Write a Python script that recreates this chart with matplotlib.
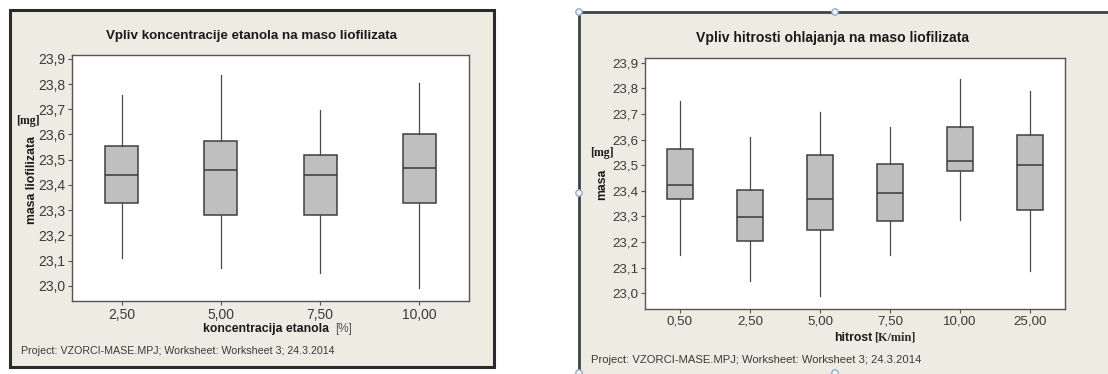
import matplotlib.pyplot as plt
from matplotlib.patches import Rectangle, Circle

# vpliv koncentracije etanola
conc_labels = ["2,50", "5,00", "7,50", "10,00"]
conc_whislo = [23.112, 23.071, 23.050, 22.991]
conc_q1 = [23.329, 23.281, 23.281, 23.329]
conc_med = [23.438, 23.459, 23.438, 23.467]
conc_q3 = [23.554, 23.574, 23.520, 23.600]
conc_whishi = [23.755, 23.834, 23.698, 23.805]

# vpliv hitrosti ohlajanja
rate_labels = ["0,50", "2,50", "5,00", "7,50", "10,00", "25,00"]
rate_whislo = [23.149, 23.049, 22.991, 23.148, 23.288, 23.088]
rate_q1 = [23.369, 23.204, 23.247, 23.281, 23.478, 23.327]
rate_med = [23.421, 23.296, 23.369, 23.392, 23.517, 23.501]
rate_q3 = [23.564, 23.404, 23.538, 23.506, 23.647, 23.618]
rate_whishi = [23.751, 23.610, 23.709, 23.648, 23.836, 23.789]

y_ticks = [23.0, 23.1, 23.2, 23.3, 23.4, 23.5, 23.6, 23.7, 23.8, 23.9]
y_ticklabels = [f"{v:.1f}".replace(".", ",") for v in y_ticks]
footer = "Project: VZORCI-MASE.MPJ; Worksheet: Worksheet 3; 24.3.2014"

W, H = 1108, 374
SANS = ["Liberation Sans", "DejaVu Sans"]
SERIF = ["Liberation Serif", "DejaVu Serif"]
BEIGE = "#eeebe3"
TXT = "#3a3a3a"
DARK = "#1a1a1a"

plt.rcParams["font.family"] = SANS

fig = plt.figure(figsize=(W / 100, H / 100), dpi=100)
fig.patch.set_facecolor("white")

# ozadje v pikslih
bg = fig.add_axes([0, 0, 1, 1])
bg.set_xlim(0, W)
bg.set_ylim(H, 0)
bg.axis("off")
bg.add_patch(Rectangle((10, 10), 484, 357, facecolor=BEIGE, edgecolor="#2b2b2b", lw=2.2))
bg.add_patch(Rectangle((579, 12), 540, 370, facecolor=BEIGE, edgecolor="#3c4248", lw=2.0))
for cx, cy in [(579, 12), (835, 12), (579, 193), (579, 373), (835, 373)]:
    bg.add_patch(Circle((cx, cy), 3.2, facecolor="#eef3fa", edgecolor="#8fa5bd", lw=0.9, zorder=5))


def px_rect(x0, y0, x1, y1):
    return [x0 / W, (H - y1) / H, (x1 - x0) / W, (y1 - y0) / H]


def draw_boxes(ax, labels, lo, q1, med, q3, hi, width, ylim, tick_size):
    stats = []
    for i in range(len(labels)):
        stats.append({"whislo": lo[i], "q1": q1[i], "med": med[i], "q3": q3[i], "whishi": hi[i]})
    ax.bxp(stats, positions=range(1, len(labels) + 1), widths=width, showfliers=False,
           showcaps=False, patch_artist=True,
           boxprops=dict(facecolor="#bfbfbf", edgecolor="#3f3f3f", linewidth=1.1),
           medianprops=dict(color="#3a3a3a", linewidth=1.1),
           whiskerprops=dict(color="#4a4a4a", linewidth=0.9))
    ax.set_xlim(0.5, len(labels) + 0.5)
    ax.set_ylim(*ylim)
    ax.set_xticks(range(1, len(labels) + 1))
    ax.set_xticklabels(labels)
    ax.set_yticks(y_ticks)
    ax.set_yticklabels(y_ticklabels)
    ax.set_facecolor("white")
    for s in ax.spines.values():
        s.set_color("#555555")
        s.set_linewidth(1.0)
    ax.tick_params(axis="both", direction="out", length=3, width=0.8, color="#555555",
                   labelsize=tick_size, labelcolor=TXT, pad=2)


ax1 = fig.add_axes(px_rect(72, 55, 469, 301))
draw_boxes(ax1, conc_labels, conc_whislo, conc_q1, conc_med, conc_q3, conc_whishi,
           0.33, (22.94, 23.915), 10)

ax2 = fig.add_axes(px_rect(645, 58, 1065, 309))
draw_boxes(ax2, rate_labels, rate_whislo, rate_q1, rate_med, rate_q3, rate_whishi,
           0.36, (22.939, 23.918), 9.6)

# napisi levega grafa
bg.text(252, 36, "Vpliv koncentracije etanola na maso liofilizata", ha="center", va="center",
        fontsize=9.6, fontweight="bold", color=DARK)
bg.text(32, 180, "masa liofilizata", rotation=90, ha="center", va="center",
        fontsize=8.8, fontweight="bold", color=DARK)
bg.text(28, 121, "[mg]", ha="center", va="center", fontsize=8.5, fontweight="bold",
        family=SERIF, color=DARK)
bg.text(329, 329, "koncentracija etanola", ha="right", va="center",
        fontsize=8.8, fontweight="bold", color=DARK)
bg.text(344, 329, "[%]", ha="center", va="center", fontsize=8.5, color="#555555")
bg.text(21, 351, footer, ha="left", va="center", fontsize=7.7, color=TXT)

# napisi desnega grafa
bg.text(833, 38, "Vpliv hitrosti ohlajanja na maso liofilizata", ha="center", va="center",
        fontsize=10.1, fontweight="bold", color=DARK)
bg.text(602, 184, "masa", rotation=90, ha="center", va="center",
        fontsize=8.8, fontweight="bold", color=DARK)
bg.text(602, 153, "[mg]", ha="center", va="center", fontsize=8.5, fontweight="bold",
        family=SERIF, color=DARK)
bg.text(872, 338, "hitrost", ha="right", va="center",
        fontsize=8.8, fontweight="bold", color=DARK)
bg.text(874, 338, "[K/min]", ha="left", va="center", fontsize=8.8, fontweight="bold",
        family=SERIF, color="#2a2a2a")
bg.text(591, 360, footer, ha="left", va="center", fontsize=8.1, color=TXT)

fig.savefig("out.png", dpi=100, facecolor=fig.get_facecolor())
